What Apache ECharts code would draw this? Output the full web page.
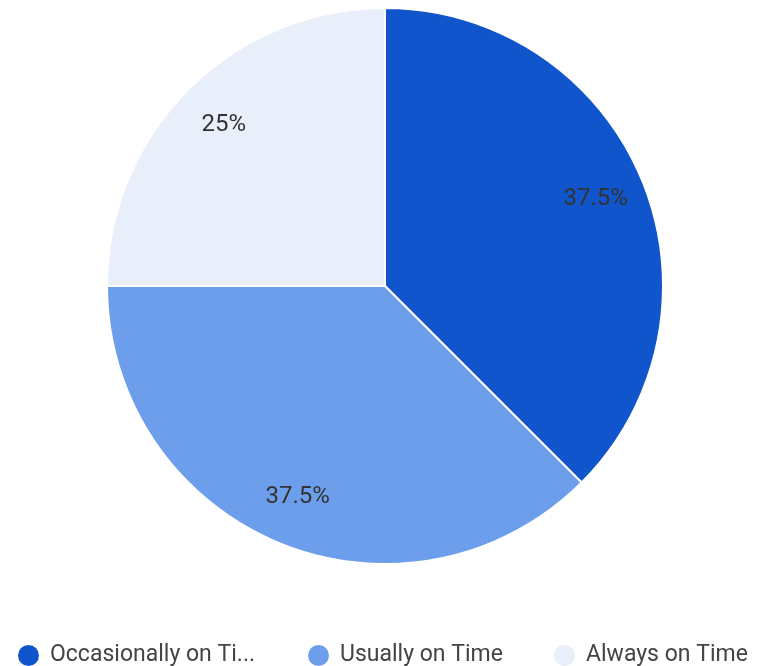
<!DOCTYPE html>
<html>
<head>
<meta charset="utf-8">
<script src="https://cdn.jsdelivr.net/npm/echarts@6/dist/echarts.min.js"></script>
<style>
html,body{margin:0;padding:0;background:#fff;}
#chart{width:757px;height:666px;}
</style>
</head>
<body>
<div id="chart"></div>
<script>
var categories = ['Occasionally on Time', 'Usually on Time', 'Always on Time'];
var legendLabels = ['Occasionally on Ti...', 'Usually on Time', 'Always on Time'];
var values = [37.5, 37.5, 25];
var colors = ['#1155cc', '#6d9eeb', '#e8eefa'];
var labelTexts = ['37.5%', '37.5%', '25%'];

var data = categories.map(function (c, i) {
  return { name: c, value: values[i], itemStyle: { color: colors[i] } };
});
var ghost = categories.map(function (c, i) {
  return { name: c, value: values[i], itemStyle: { color: 'rgba(0,0,0,0)' },
           label: { formatter: labelTexts[i] } };
});

function legendAt(left, i) {
  return {
    top: 638,
    left: left,
    data: [categories[i]],
    icon: 'circle',
    itemWidth: 23,
    itemHeight: 23,
    itemGap: 0,
    selectedMode: false,
    formatter: function () { return legendLabels[i]; },
    textStyle: { fontFamily: 'Roboto', fontSize: 23, color: '#444', padding: [0, 0, 0, 5] }
  };
}

var chart = echarts.init(document.getElementById('chart'));
chart.setOption({
  animation: false,
  backgroundColor: '#fff',
  legend: [legendAt(11, 0), legendAt(301, 1), legendAt(547, 2)],
  series: [
    {
      type: 'pie',
      center: [385, 286],
      radius: [0, 278],
      startAngle: 90,
      clockwise: true,
      data: data,
      label: { show: false },
      labelLine: { show: false },
      itemStyle: { borderColor: '#fff', borderWidth: 2 },
      emphasis: { disabled: true }
    },
    {
      type: 'pie',
      center: [385, 286],
      radius: [172, 278],
      startAngle: 90,
      clockwise: true,
      silent: true,
      data: ghost,
      label: {
        show: true,
        position: 'inside',
        fontFamily: 'Roboto',
        fontSize: 24,
        color: '#333'
      },
      labelLine: { show: false },
      emphasis: { disabled: true }
    }
  ]
});
</script>
</body>
</html>
